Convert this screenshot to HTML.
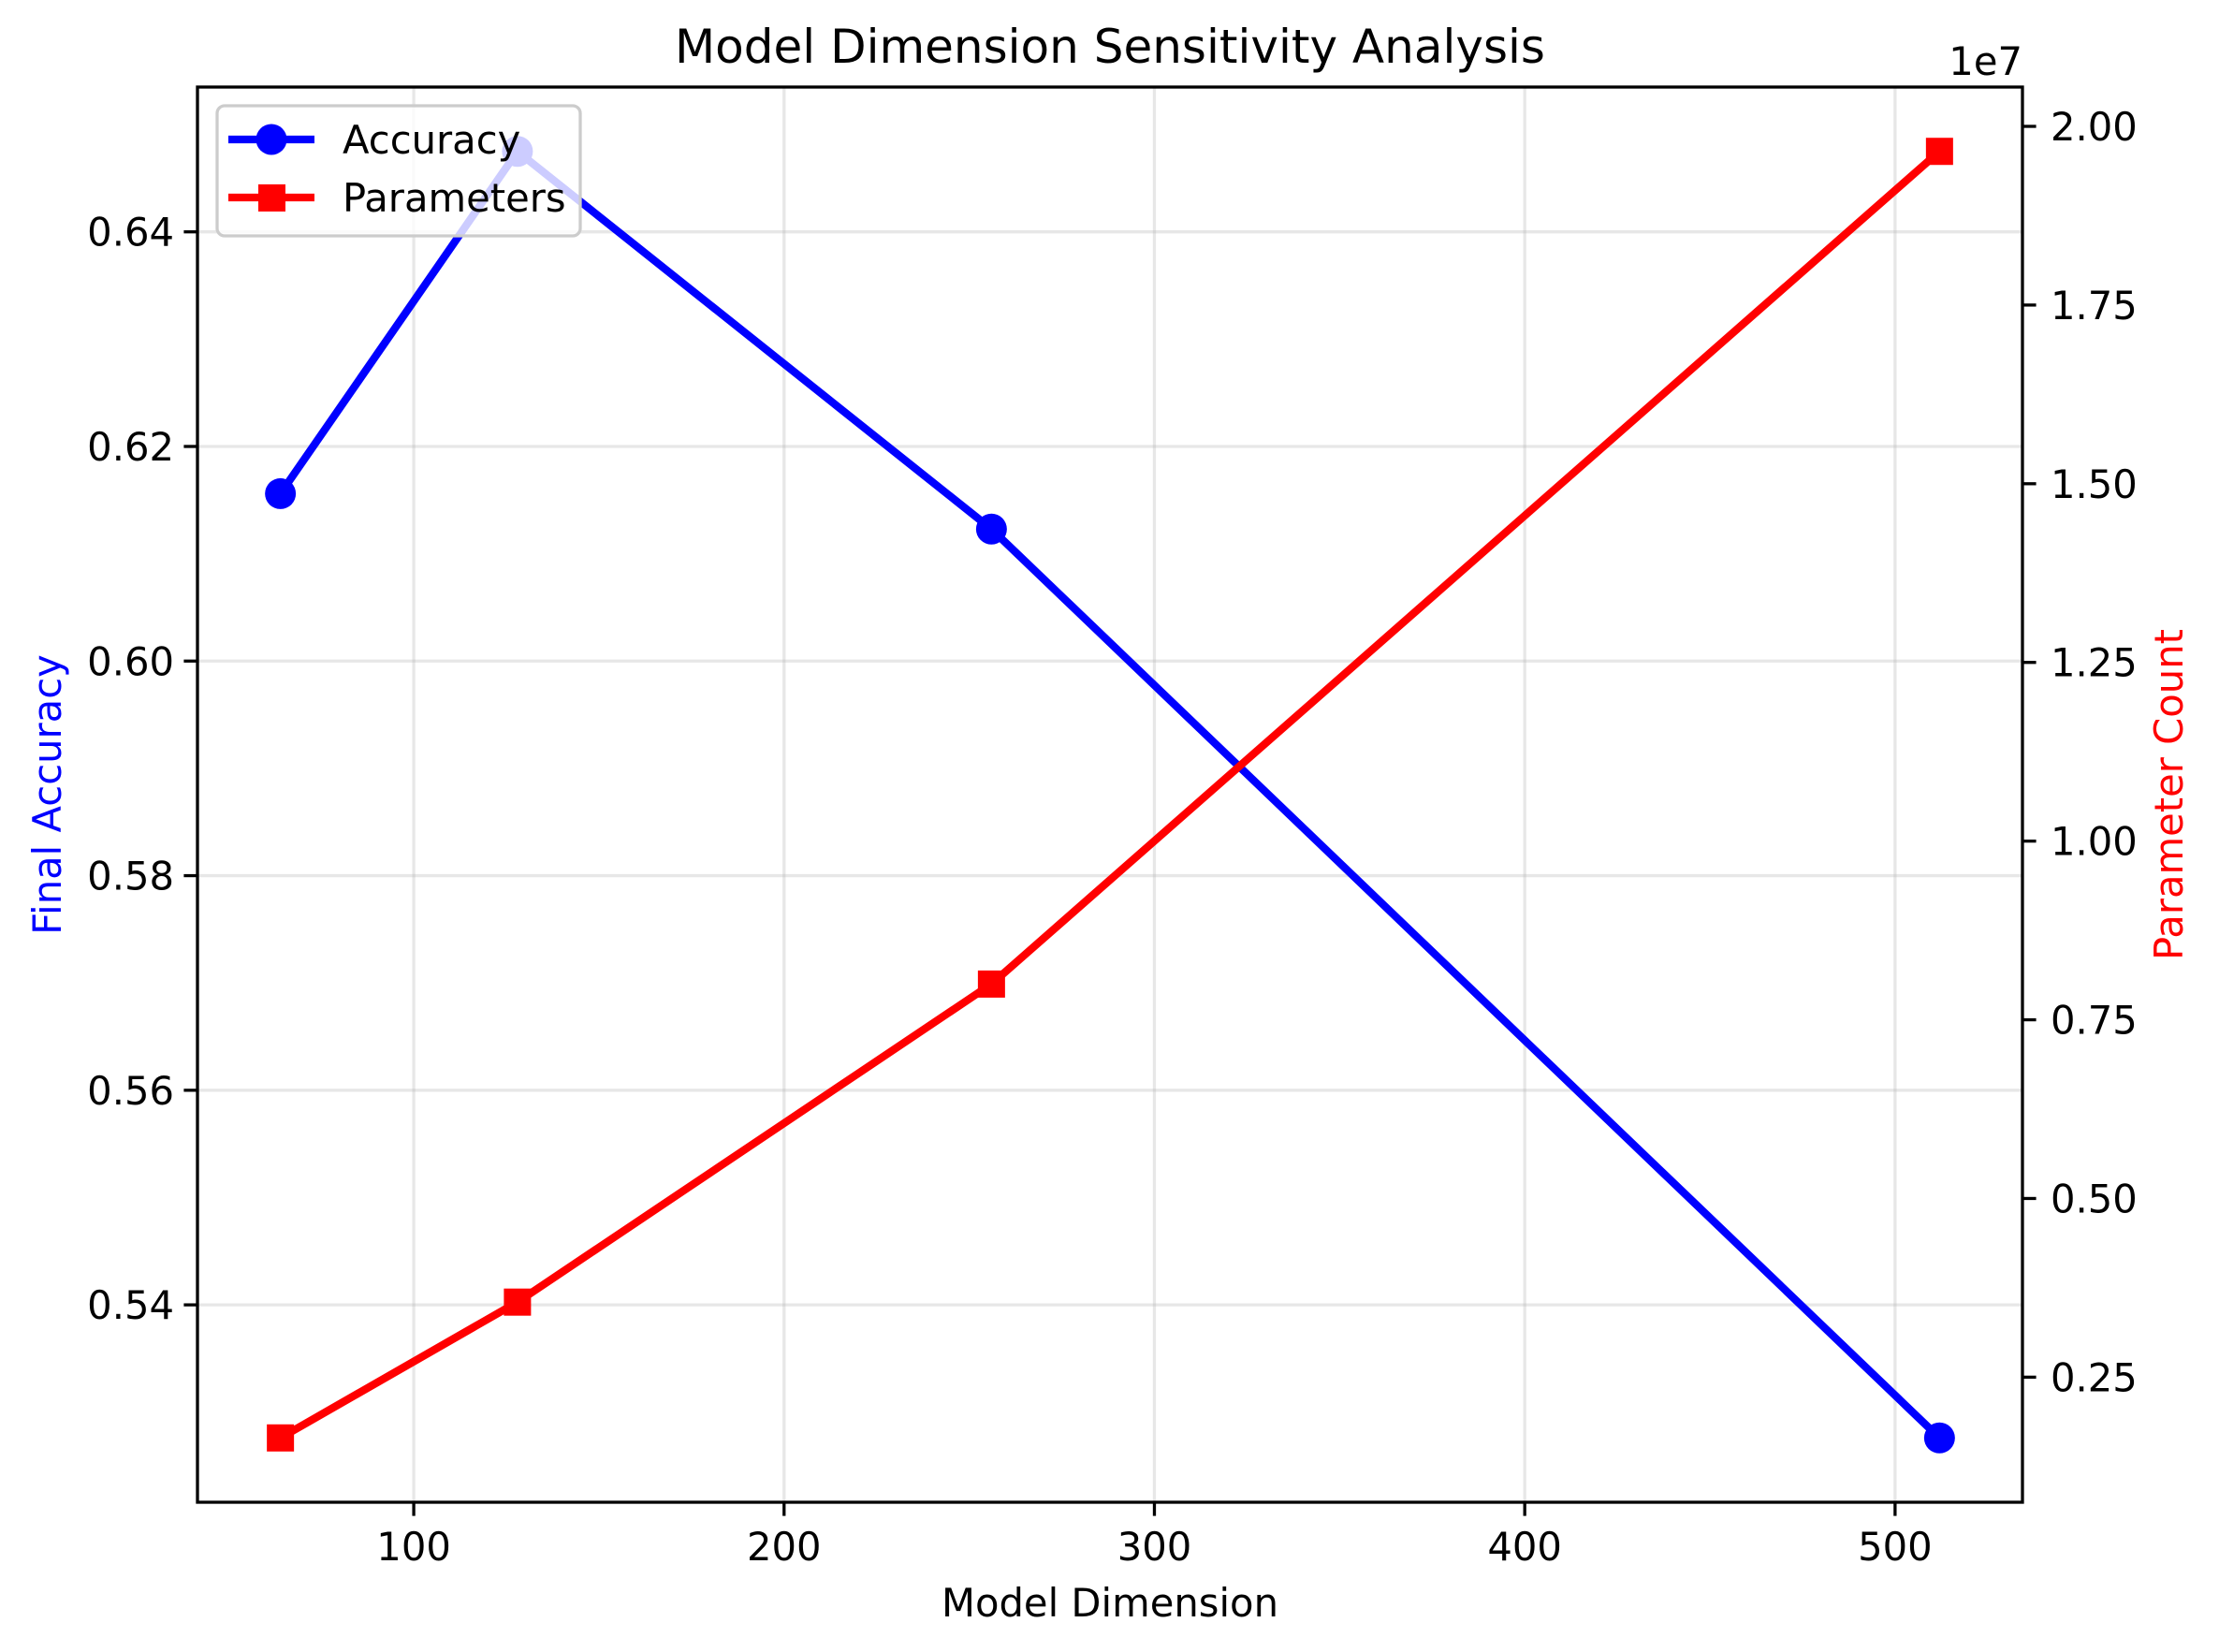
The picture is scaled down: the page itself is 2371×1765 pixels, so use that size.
<!DOCTYPE html>
<html><head><meta charset="utf-8"><style>
html,body{margin:0;padding:0;background:#fff;}
svg{display:block;font-family:"DejaVu Sans","Liberation Sans",sans-serif;}
</style></head><body>
<svg id="chart" width="2371" height="1765" viewBox="0 0 2371 1765" xmlns="http://www.w3.org/2000/svg"></svg>
<script>
const dims = [64, 128, 256, 512];
const accuracy = [0.6156, 0.6475, 0.6123, 0.5276];
const params = [1.65e6, 3.55e6, 8.0e6, 1.965e7];
const xTicks = [100, 200, 300, 400, 500];
const accTicks = [0.54, 0.56, 0.58, 0.60, 0.62, 0.64];
const paramTicks = [0.25, 0.50, 0.75, 1.00, 1.25, 1.50, 1.75, 2.00];

const L = 211, R = 2161, T = 93, B = 1605;
const NS = "http://www.w3.org/2000/svg";
const svg = document.getElementById('chart');
function pad(min, max){ const r = max - min; return [min - 0.05*r, max + 0.05*r]; }
const [xmin, xmax] = pad(Math.min(...dims), Math.max(...dims));
const [amin, amax] = pad(Math.min(...accuracy), Math.max(...accuracy));
const [pmin, pmax] = pad(Math.min(...params), Math.max(...params));
const sx = v => L + (v - xmin) / (xmax - xmin) * (R - L);
const sa = v => B - (v - amin) / (amax - amin) * (B - T);
const sp = v => B - (v - pmin) / (pmax - pmin) * (B - T);

function el(tag, attrs, parent){
  const e = document.createElementNS(NS, tag);
  for (const k in attrs) e.setAttribute(k, attrs[k]);
  (parent || svg).appendChild(e);
  return e;
}
function txt(s, attrs, parent){ const e = el('text', attrs, parent); e.textContent = s; return e; }

const grid = el('g', {});


xTicks.forEach(t => {
  const g = el('line', {x1: sx(t), x2: sx(t), y1: T, y2: B, stroke: '#b0b0b0', 'stroke-opacity': 0.3, 'stroke-width': 3.3}, grid);
  
  
});
accTicks.forEach(t => {
  const g = el('line', {x1: L, x2: R, y1: sa(t), y2: sa(t), stroke: '#b0b0b0', 'stroke-opacity': 0.3, 'stroke-width': 3.3}, grid);
  
  
});

const accG = el('g', {});


const accLine = el('polyline', {points: dims.map((d,i) => sx(d)+','+sa(accuracy[i])).join(' '), fill: 'none', stroke: '#0000ff', 'stroke-width': 8.3, 'stroke-linejoin': 'round', 'stroke-linecap': 'square'}, accG);


dims.forEach((d,i) => {
  const c = el('circle', {cx: sx(d), cy: sa(accuracy[i]), r: 16.5, fill: '#0000ff'}, accG);
  
  
});

const lg = el('g', {});


el('rect', {x: 232, y: 113, width: 388, height: 139, rx: 8, fill: '#fff', 'fill-opacity': 0.8, stroke: '#cccccc', 'stroke-width': 3.3}, lg);
const le1 = el('g', {}, lg);


el('line', {x1: 244, x2: 336, y1: 149, y2: 149, stroke: '#0000ff', 'stroke-width': 8.3}, le1);
el('circle', {cx: 290, cy: 149, r: 16.5, fill: '#0000ff'}, le1);
txt('Accuracy', {x: 366, y: 164, 'font-size': 41.7, fill: '#000'}, le1);
const le2 = el('g', {}, lg);


el('line', {x1: 244, x2: 336, y1: 211, y2: 211, stroke: '#ff0000', 'stroke-width': 8.3}, le2);
el('rect', {x: 276, y: 197, width: 29, height: 29, fill: '#ff0000'}, le2);
txt('Parameters', {x: 366, y: 226, 'font-size': 41.7, fill: '#000'}, le2);

const pG = el('g', {});


const pLine = el('polyline', {points: dims.map((d,i) => sx(d)+','+sp(params[i])).join(' '), fill: 'none', stroke: '#ff0000', 'stroke-width': 8.3, 'stroke-linejoin': 'round', 'stroke-linecap': 'square'}, pG);


dims.forEach((d,i) => {
  const r = el('rect', {x: sx(d)-14.5, y: sp(params[i])-14.5, width: 29, height: 29, fill: '#ff0000'}, pG);
  
  
});

const frame = el('rect', {x: L, y: T, width: R-L, height: B-T, fill: 'none', stroke: '#000', 'stroke-width': 3.3});



const xa = el('g', {});


xTicks.forEach(t => {
  el('line', {x1: sx(t), x2: sx(t), y1: B, y2: B+14.6, stroke: '#000', 'stroke-width': 3.3}, xa);
  const l = txt(String(t), {x: sx(t), y: B+62, 'font-size': 41.7, 'text-anchor': 'middle'}, xa);
  
  
});
const xt = txt('Model Dimension', {x: (L+R)/2, y: 1727, 'font-size': 41.7, 'text-anchor': 'middle'});



const ya = el('g', {});


accTicks.forEach(t => {
  el('line', {x1: L-14.6, x2: L, y1: sa(t), y2: sa(t), stroke: '#000', 'stroke-width': 3.3}, ya);
  const l = txt(t.toFixed(2), {x: L-25, y: sa(t)+15, 'font-size': 41.7, 'text-anchor': 'end'}, ya);
  
  
});
const yt = txt('Final Accuracy', {x: 0, y: 0, 'font-size': 41.7, 'text-anchor': 'middle', fill: '#0000ff', transform: 'translate(65,849) rotate(-90)'});



const yr = el('g', {});


paramTicks.forEach(t => {
  el('line', {x1: R, x2: R+14.6, y1: sp(t*1e7), y2: sp(t*1e7), stroke: '#000', 'stroke-width': 3.3}, yr);
  const l = txt(t.toFixed(2), {x: R+30, y: sp(t*1e7)+15, 'font-size': 41.7}, yr);
  
  
});
const off = txt('1e7', {x: R, y: 80, 'font-size': 41.7, 'text-anchor': 'end'});


const yrt = txt('Parameter Count', {x: 0, y: 0, 'font-size': 41.7, 'text-anchor': 'middle', fill: '#ff0000', transform: 'translate(2332,849) rotate(-90)'});



const title = txt('Model Dimension Sensitivity Analysis', {x: (L+R)/2, y: 67, 'font-size': 50, 'text-anchor': 'middle'});


</script>
</body></html>
